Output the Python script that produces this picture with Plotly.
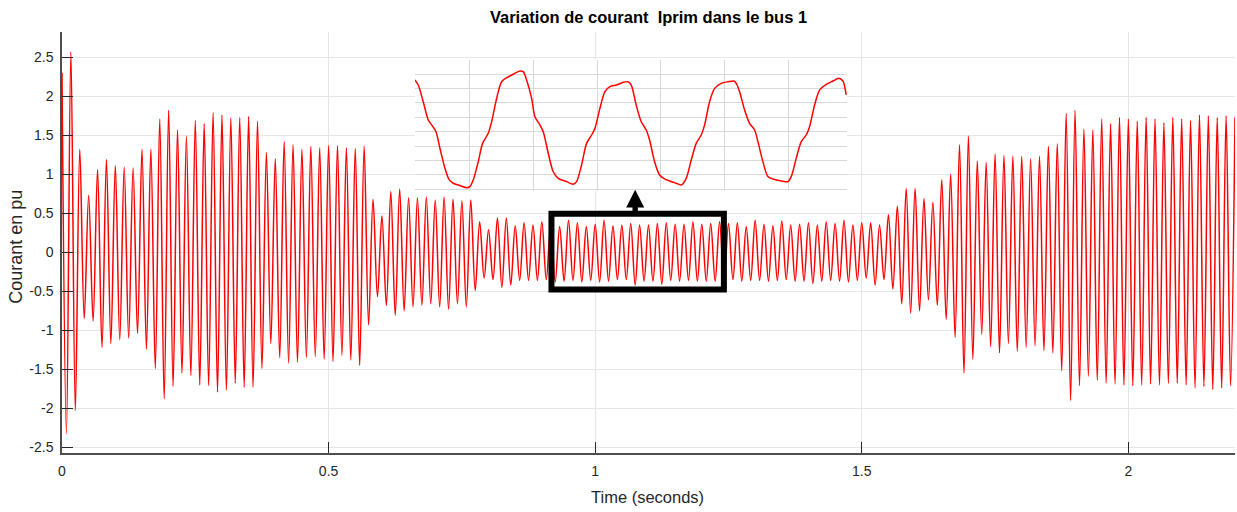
import numpy as np
import plotly.graph_objects as go

TITLE = "<b>Variation de courant  Iprim dans le bus 1</b>"
X_LABEL = "Time (seconds)"
Y_LABEL = "Courant en pu"

# Network frequency: one crest/trough every half-cycle
F_HZ = 60

# Current crest / trough values (pu), one per half-cycle, starting at t = 0
current_extrema = [
    2.30, -2.33, 2.57, -2.03, 1.32, -0.85, 0.73, -0.88, 1.06, -1.22,
    1.19, -1.17, 1.11, -1.12, 1.09, -1.10, 1.08, -1.04, 1.32, -1.24,
    1.32, -1.49, 1.71, -1.88, 1.82, -1.72, 1.57, -1.55, 1.49, -1.58,
    1.69, -1.70, 1.65, -1.71, 1.79, -1.79, 1.76, -1.77, 1.72, -1.68,
    1.73, -1.73, 1.74, -1.73, 1.68, -1.49, 1.28, -1.17, 1.20, -1.35,
    1.42, -1.42, 1.38, -1.41, 1.32, -1.35, 1.36, -1.34, 1.34, -1.37,
    1.37, -1.40, 1.37, -1.32, 1.34, -1.38, 1.33, -1.45, 1.36, -0.93,
    0.68, -0.57, 0.47, -0.68, 0.78, -0.81, 0.81, -0.75, 0.70, -0.70,
    0.70, -0.68, 0.71, -0.66, 0.67, -0.70, 0.71, -0.73, 0.68, -0.66,
    0.66, -0.70, 0.67, -0.49, 0.39, -0.33, 0.29, -0.35, 0.44, -0.45,
    0.44, -0.42, 0.34, -0.36, 0.38, -0.36, 0.35, -0.36, 0.39, -0.35,
    0.38, -0.38, 0.33, -0.37, 0.41, -0.36, 0.38, -0.38, 0.33, -0.36,
    0.36, -0.38, 0.41, -0.37, 0.34, -0.35, 0.35, -0.35, 0.37, -0.42,
    0.35, -0.37, 0.35, -0.37, 0.37, -0.41, 0.38, -0.36, 0.36, -0.37,
    0.36, -0.36, 0.39, -0.37, 0.36, -0.37, 0.37, -0.37, 0.39, -0.37,
    0.37, -0.35, 0.38, -0.37, 0.33, -0.36, 0.41, -0.36, 0.36, -0.37,
    0.34, -0.36, 0.40, -0.35, 0.35, -0.37, 0.36, -0.37, 0.38, -0.40,
    0.35, -0.37, 0.39, -0.36, 0.37, -0.37, 0.41, -0.38, 0.35, -0.36,
    0.38, -0.33, 0.38, -0.42, 0.35, -0.35, 0.48, -0.47, 0.59, -0.66,
    0.82, -0.78, 0.82, -0.75, 0.69, -0.61, 0.64, -0.68, 0.93, -0.86,
    1.00, -1.09, 1.38, -1.55, 1.49, -1.37, 1.17, -1.05, 1.15, -1.21,
    1.26, -1.29, 1.24, -1.17, 1.23, -1.27, 1.23, -1.22, 1.20, -1.20,
    1.23, -1.26, 1.36, -1.29, 1.39, -1.52, 1.78, -1.90, 1.82, -1.71,
    1.58, -1.59, 1.57, -1.64, 1.71, -1.68, 1.65, -1.69, 1.73, -1.70,
    1.71, -1.71, 1.68, -1.70, 1.73, -1.69, 1.71, -1.70, 1.66, -1.68,
    1.73, -1.68, 1.71, -1.70, 1.69, -1.74, 1.76, -1.72, 1.75, -1.76,
    1.73, -1.74, 1.75, -1.71, 1.73,
]

x_ticks = [0, 0.5, 1, 1.5, 2]
x_tick_labels = ["0", "0.5", "1", "1.5", "2"]
y_ticks = [-2.5, -2, -1.5, -1, -0.5, 0, 0.5, 1, 1.5, 2, 2.5]
y_tick_labels = ["-2.5", "-2", "-1.5", "-1", "-0.5", "0", "0.5", "1", "1.5", "2", "2.5"]

# Zoomed view of the steady interval (time in ms, current in pu)
inset_t_ms = [
    1.37, 1.89, 2.67, 3.46, 3.99, 4.67, 5.29, 6.08, 6.76, 7.38, 8.43, 9.49, 10.0,
    10.52, 11.31, 11.99, 12.88, 13.41, 14.2, 14.98, 15.77, 16.8, 17.85, 18.37,
    18.9, 19.69, 20.21, 20.99, 21.51, 22.3, 23.08, 23.87, 25.18, 26.22, 26.75,
    27.53, 28.32, 29.11, 29.63, 30.41, 31.2, 31.98, 33.03, 34.08, 34.81, 35.33,
    36.11, 36.9, 37.68, 38.21, 38.99, 39.78, 40.56, 41.35, 42.39, 43.18, 43.96,
    44.75, 45.53, 46.32, 46.85, 47.63, 48.42, 49.46, 50.51, 51.45, 51.81, 52.34,
    53.13, 53.91, 54.7, 55.22, 56.0, 56.79, 57.57, 58.88, 59.93, 60.45, 61.23,
    62.02, 62.8, 63.33, 64.12, 64.9, 65.95, 67.0, 67.89, 68.56, 69.08,
]
inset_current = [
    0.359, 0.324, 0.208, 0.081, 0.047, 0.0, -0.115, -0.254, -0.335, -0.358,
    -0.374, -0.389, -0.382, -0.335, -0.208, -0.081, -0.011, 0.069, 0.232, 0.347,
    0.375, 0.399, 0.422, 0.417, 0.359, 0.232, 0.104, 0.047, 0.0, -0.15, -0.278,
    -0.324, -0.347, -0.365, -0.347, -0.231, -0.081, -0.023, 0.023, 0.162, 0.278,
    0.313, 0.324, 0.343, 0.347, 0.324, 0.185, 0.069, 0.012, -0.058, -0.208,
    -0.301, -0.328, -0.342, -0.358, -0.37, -0.324, -0.197, -0.081, -0.023, 0.047,
    0.208, 0.301, 0.336, 0.347, 0.352, 0.336, 0.278, 0.151, 0.058, 0.012, -0.069,
    -0.208, -0.312, -0.328, -0.342, -0.347, -0.312, -0.185, -0.069, -0.023, 0.035,
    0.185, 0.289, 0.329, 0.352, 0.371, 0.352, 0.255,
]
inset_grid_t = [10, 20, 30, 40, 50, 60]
inset_grid_i = [-0.4, -0.3, -0.2, -0.1, 0, 0.1, 0.2, 0.3, 0.4, 0.5]

# Interval highlighted by the frame (s, pu) and the pointer position (s)
zoom_t0, zoom_t1 = 0.918, 1.2414
zoom_lo, zoom_hi = -0.477, 0.494
pointer_t = 1.075

FONT = "Liberation Sans, Arial, Helvetica, sans-serif"
INK = "#262626"
GRID = "#e6e6e6"

t = np.arange(len(current_extrema)) / (2 * F_HZ)

fig = go.Figure()
fig.add_trace(go.Scatter(
    x=t, y=current_extrema, mode="lines",
    line=dict(color="#ff0000", width=1.5, shape="spline", smoothing=1.0),
    xaxis="x", yaxis="y", showlegend=False, hoverinfo="skip",
))
fig.add_trace(go.Scatter(
    x=inset_t_ms, y=inset_current, mode="lines",
    line=dict(color="#ff0000", width=1.5, shape="spline", smoothing=0.8),
    xaxis="x2", yaxis="y2", showlegend=False, hoverinfo="skip",
))

shapes = [
    # white backing for the zoomed view
    dict(type="rect", xref="x2 domain", yref="y2 domain", x0=0, x1=1, y0=0, y1=1,
         fillcolor="white", line=dict(width=0), layer="below"),
    # frame around the zoomed interval
    dict(type="rect", xref="x", yref="y", x0=zoom_t0, x1=zoom_t1, y0=zoom_lo, y1=zoom_hi,
         line=dict(color="black", width=6), fillcolor="rgba(0,0,0,0)", layer="above"),
    # pointer stem and head
    dict(type="rect", xref="x", yref="y", xsizemode="pixel", ysizemode="pixel",
         xanchor=pointer_t, yanchor=zoom_hi, x0=-2.7, x1=2.7, y0=0, y1=7,
         fillcolor="black", line=dict(width=0), layer="above"),
    dict(type="path", xref="x", yref="y", xsizemode="pixel", ysizemode="pixel",
         xanchor=pointer_t, yanchor=zoom_hi, path="M -9,6.2 L 9,6.2 L 0,23.9 Z",
         fillcolor="black", line=dict(width=0), layer="above"),
]

fig.update_layout(
    width=1237, height=512,
    margin=dict(l=62, r=2, t=32, b=59),
    paper_bgcolor="white", plot_bgcolor="white",
    font=dict(family=FONT, color=INK, size=14),
    title=dict(text=TITLE, x=0.5, xref="paper", xanchor="center",
               y=1 - 17 / 512, yref="container", yanchor="middle",
               font=dict(family=FONT, size=16.5, color="black")),
    xaxis=dict(range=[0, 2.2], tickvals=x_ticks, ticktext=x_tick_labels,
               ticks="inside", ticklen=11, tickcolor=INK, tickwidth=1,
               showline=True, linecolor="#4d4d4d", linewidth=1.5,
               showgrid=True, gridcolor=GRID, gridwidth=1, zeroline=False,
               tickfont=dict(size=14, color=INK), ticklabelstandoff=4),
    yaxis=dict(range=[-2.573, 2.824], tickvals=y_ticks, ticktext=y_tick_labels,
               ticks="inside", ticklen=11, tickcolor=INK, tickwidth=1,
               showline=True, linecolor="#4d4d4d", linewidth=1.5,
               showgrid=True, gridcolor=GRID, gridwidth=1, zeroline=False,
               tickfont=dict(size=14, color=INK), ticklabelstandoff=4),
    xaxis2=dict(domain=[0.3009, 0.6692], anchor="y2", range=[1.37, 69.2],
                tickvals=inset_grid_t, showticklabels=False, ticks="",
                showgrid=True, gridcolor="#d9d9d9", zeroline=False, showline=False),
    yaxis2=dict(domain=[0.6223, 0.9342], anchor="x2", range=[-0.412, 0.5],
                tickvals=inset_grid_i, showticklabels=False, ticks="",
                showgrid=True, gridcolor="#d9d9d9", zeroline=False, showline=False),
    shapes=shapes,
    annotations=[
        dict(text=Y_LABEL, xref="paper", yref="paper", x=(16 - 62) / 1173, y=0.49,
             xanchor="center", yanchor="middle", textangle=-90, showarrow=False,
             font=dict(family=FONT, size=18, color=INK)),
        dict(text=X_LABEL, xref="paper", yref="paper", x=0.4995, y=(453 - 497) / 421,
             xanchor="center", yanchor="middle", showarrow=False,
             font=dict(family=FONT, size=16.5, color=INK)),
    ],
)

fig.write_html("out.html")
